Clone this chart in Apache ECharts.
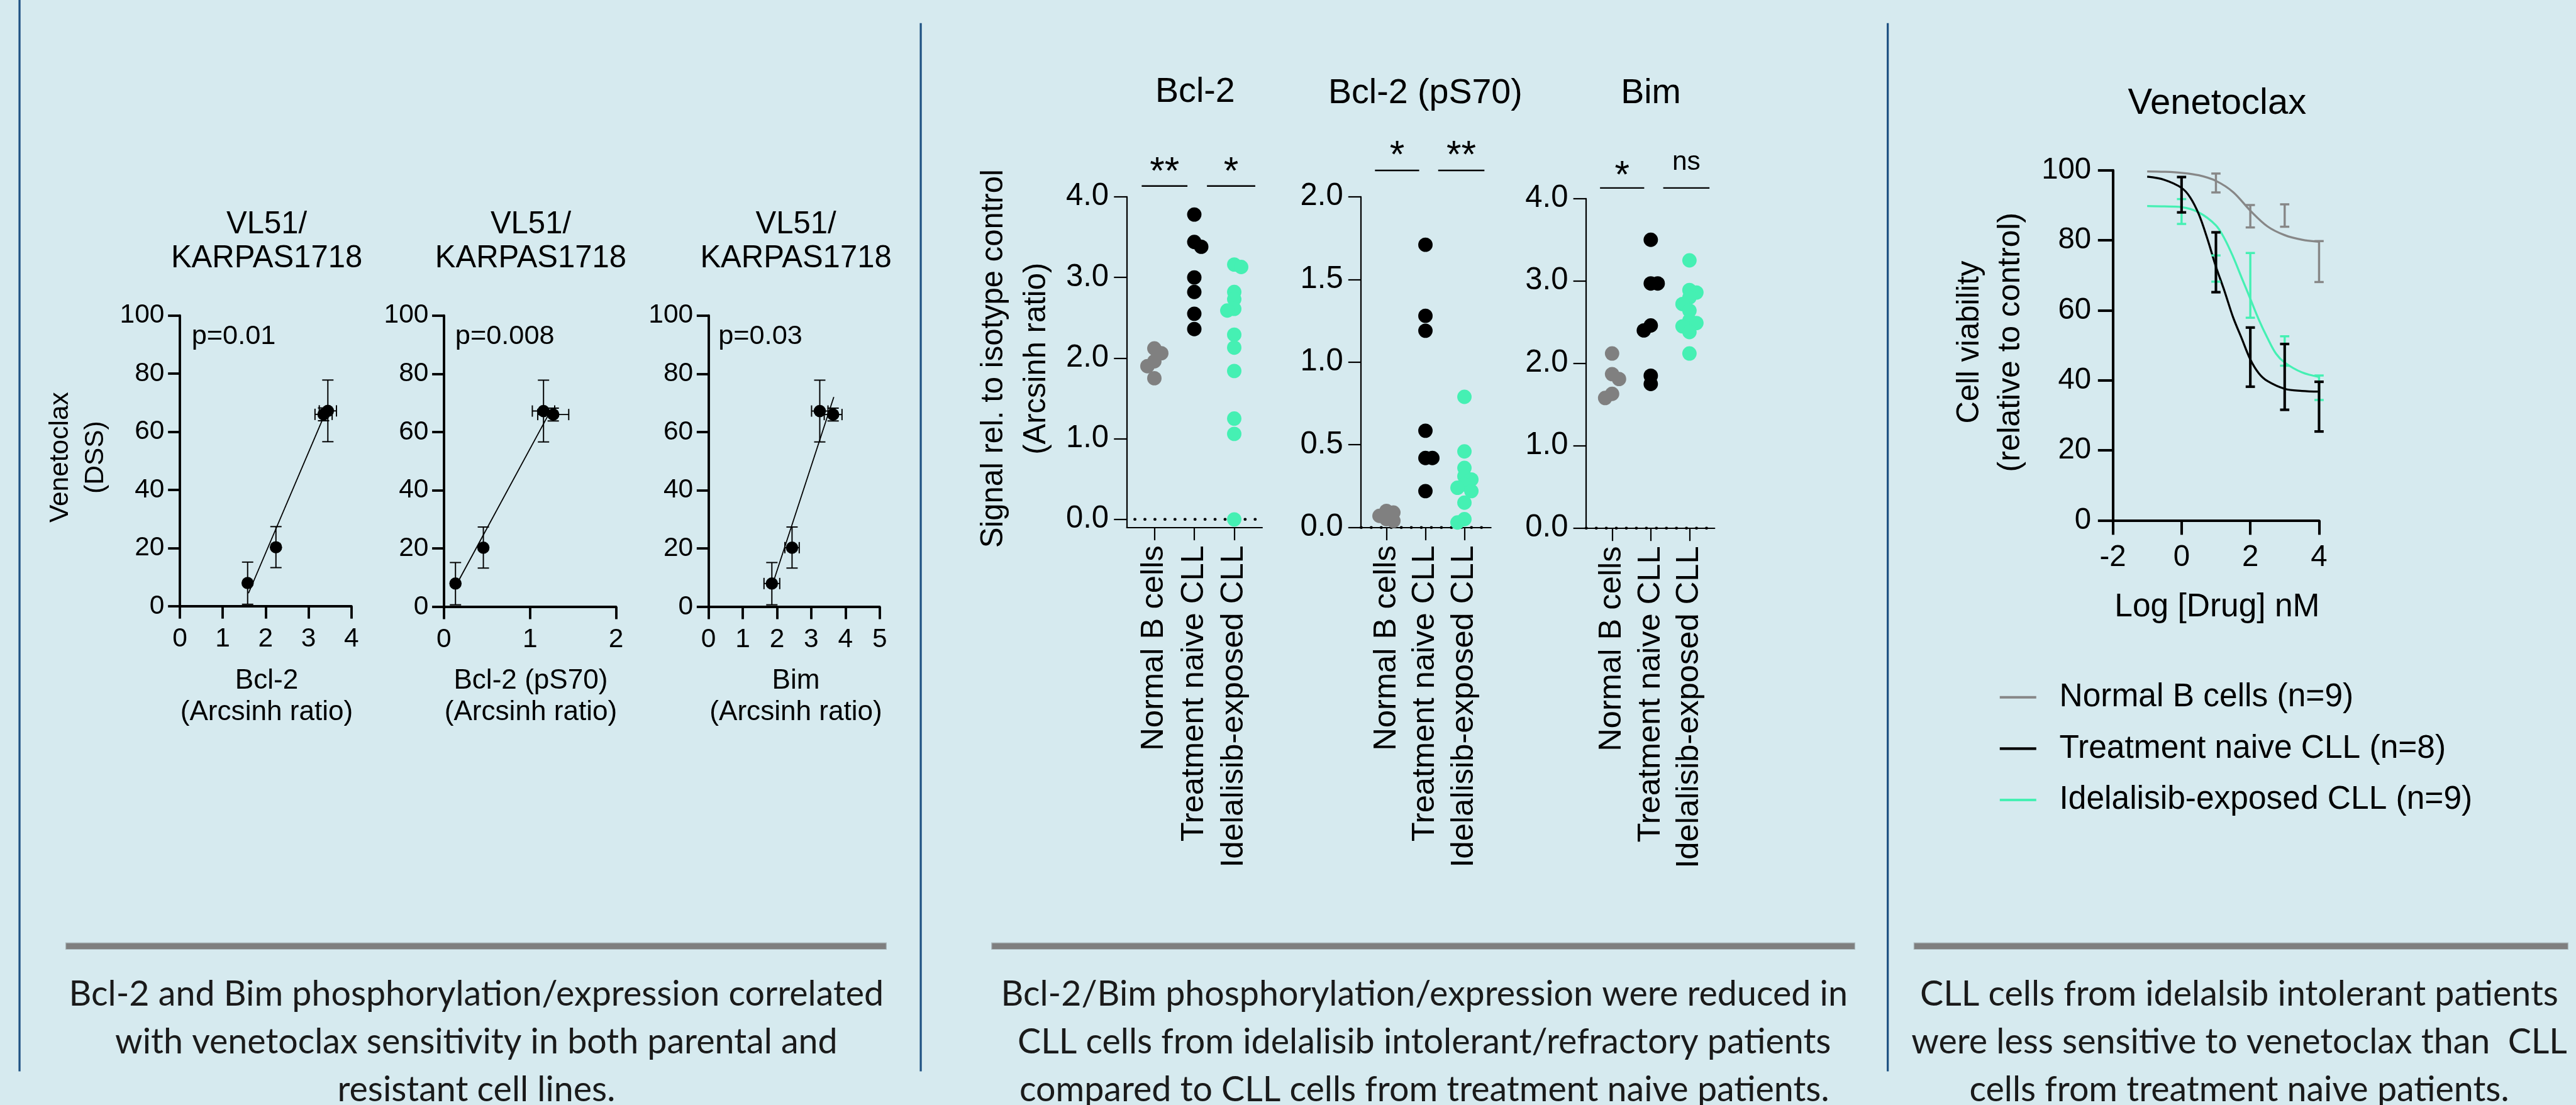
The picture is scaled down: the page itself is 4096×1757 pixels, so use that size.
<!DOCTYPE html>
<html><head><meta charset="utf-8">
<script src="https://cdn.jsdelivr.net/npm/echarts@6/dist/echarts.min.js"></script>
<style>html,body{margin:0;padding:0;background:#d6eaef;}#c{width:4096px;height:1757px;}</style>
</head><body><div id="c"></div>
<script>
// ---------------- DATA ----------------
// Panel 1: cell lines, DSS vs arcsinh ratios
const dssMean = [8.0, 20.3, 67.2, 66.0];
const dssLow = [0.7, 13.3, 56.6, 63.8];
const dssHigh = [15.2, 27.4, 77.8, 68.2];
const bcl2Ratio = [1.58, 2.24, 3.45, 3.35];
const bcl2RatioErr = [0, 0, 0.2, 0.2];
const ps70Ratio = [0.134, 0.458, 1.157, 1.27];
const ps70RatioErr = [0, 0, 0.13, 0.18];
const bimRatio = [1.85, 2.44, 3.25, 3.64];
const bimRatioErr = [0.23, 0.21, 0.24, 0.26];
const fitBcl2 = [[1.6, 4.5], [3.4, 66.8]];
const fitPs70 = [[0.134, 7.0], [1.25, 67.9]];
const fitBim = [[1.85, 7.0], [3.66, 72.0]];
const pValues = ['p=0.01', 'p=0.008', 'p=0.03'];
const p1Titles = ['Bcl-2', 'Bcl-2 (pS70)', 'Bim'];

// Panel 2: patient cells
const groups = ['Normal B cells', 'Treatment naive CLL', 'Idelalisib-exposed CLL'];
const bcl2Normal = [2.12, 2.06, 1.96, 1.90, 1.75];
const bcl2Naive = [3.78, 3.44, 3.38, 3.00, 2.82, 2.55, 2.36];
const bcl2Idela = [3.16, 3.13, 2.82, 2.73, 2.61, 2.59, 2.29, 2.13, 1.84, 1.25, 1.06, 0.0];
const ps70Normal = [0.10, 0.09, 0.07, 0.05, 0.04];
const ps70Naive = [1.71, 1.28, 1.19, 0.585, 0.42, 0.42, 0.22];
const ps70Idela = [0.79, 0.46, 0.36, 0.31, 0.29, 0.26, 0.24, 0.22, 0.15, 0.05, 0.03];
const bimNormal = [2.12, 1.87, 1.81, 1.63, 1.58];
const bimNaive = [3.50, 2.97, 2.97, 2.46, 2.40, 1.85, 1.75];
const bimIdela = [3.25, 2.89, 2.86, 2.80, 2.72, 2.64, 2.52, 2.49, 2.45, 2.38, 2.12];
const sigBcl2 = ['**', '*'];
const sigPs70 = ['*', '**'];
const sigBim = ['*', 'ns'];

// Panel 3: venetoclax dose response (log nM, % viability)
const normalCurve = [[-1,99.7],[-0.5,99.6],[0,99.3],[0.5,98.6],[1,97.0],[1.5,93.8],[2,88.5],[2.5,84.0],[3,81.5],[3.5,80.2],[4,79.6]];
const naiveCurve = [[-1,98.2],[-0.5,97.3],[0,95.0],[0.25,92.3],[0.5,87.5],[0.75,80.5],[1,72.5],[1.25,65.5],[1.5,58.0],[1.75,52.0],[2,46.0],[2.25,42.0],[2.5,39.8],[3,37.6],[3.5,37.0],[4,36.8]];
const idelaCurve = [[-1,89.8],[-0.5,89.7],[0,89.5],[0.5,88.0],[1,84.3],[1.25,80.5],[1.5,75.3],[1.75,69.3],[2,63.3],[2.25,57.3],[2.5,52.1],[2.75,47.6],[3,45.1],[3.5,42.3],[4,41.0]];
const normalErr = [[1,93.7,99.1],[2,83.7,90.1],[3,83.9,90.3],[4,68.1,79.8]];
const naiveErr = [[0,88.0,98.1],[1,65.2,82.3],[2,38.2,55.1],[3,31.6,50.4],[4,25.4,39.6]];
const idelaErr = [[0,84.7,91.8],[1,68.2,75.7],[2,57.9,76.4],[3,44.2,52.6],[4,34.4,41.4]];
const legendNames = ['Normal B cells (n=9)', 'Treatment naive CLL (n=8)', 'Idelalisib-exposed CLL (n=9)'];

const captions = [
  'Bcl-2 and Bim phosphorylation/expression correlated\nwith venetoclax sensitivity in both parental and\nresistant cell lines.',
  'Bcl-2/Bim phosphorylation/expression were reduced in\nCLL cells from idelalisib intolerant/refractory patients\ncompared to CLL cells from treatment naive patients.',
  'CLL cells from idelalsib intolerant patients\nwere less sensitive to venetoclax than  CLL\ncells from treatment naive patients.'
];

// ---------------- LAYOUT ----------------
const S = 0.817;
const s = v => v * S;
const FONT = "'Liberation Sans', Arial, Helvetica, sans-serif";
const CAPFONT = "Lato, 'Open Sans', sans-serif";
const GRAY = '#808080', GREEN = '#45f0b3', BLACK = '#000000';

const gridsRef = [
  [350, 614, 334, 566],
  [864, 614, 335, 567],
  [1379, 614, 333, 567],
  [2193, 383, 263.5, 643.5],
  [2649, 383, 252.7, 643.5],
  [3087, 386.5, 250, 641.4],
  [4112, 331.6, 401.4, 681.2]
];
const grid = gridsRef.map(g => ({left: s(g[0]), top: s(g[1]), width: s(g[2]), height: s(g[3])}));

function axis(gi, o) {
  const a = {
    type: 'value', gridIndex: gi, min: o.min, max: o.max,
    axisLine: {show: true, onZero: false, lineStyle: {color: '#000', width: o.w}},
    axisTick: {show: true, length: o.tick, lineStyle: {color: '#000', width: o.w}},
    axisLabel: {show: true, color: '#000', fontSize: o.fs, margin: o.margin, fontFamily: FONT},
    splitLine: {show: false}
  };
  if (o.interval !== undefined) a.interval = o.interval;
  if (o.fmt) a.axisLabel.formatter = o.fmt;
  if (o.custom) { a.axisTick.customValues = o.custom; a.axisLabel.customValues = o.custom; }
  if (o.rotate) a.axisLabel.rotate = o.rotate;
  return a;
}
const catFmt = v => groups[Math.round(v) - 1];
const f1 = v => v.toFixed(1);
const p1x = {w: s(4.7), tick: s(24), fs: s(52), margin: s(38)};
const p1y = {min: 0, max: 100, interval: 20, w: s(4.7), tick: s(23), fs: s(52), margin: s(30)};
const p2x = {custom: [1, 2, 3], fmt: catFmt, rotate: 90, w: s(2.7), tick: s(25), fs: s(62), margin: s(35)};
const p2y = {w: s(2.7), tick: s(25), fs: s(60), margin: s(35), fmt: f1};

const xAxis = [
  axis(0, Object.assign({min: 0, max: 4, interval: 1}, p1x)),
  axis(1, Object.assign({min: 0, max: 2, interval: 1}, p1x)),
  axis(2, Object.assign({min: 0, max: 5, interval: 1}, p1x)),
  axis(3, Object.assign({min: 0.31, max: 3.70}, p2x)),
  axis(4, Object.assign({min: 0.35, max: 3.68}, p2x)),
  axis(5, Object.assign({min: 0.33, max: 3.65}, p2x)),
  axis(6, {min: -2, max: 4, interval: 2, w: s(5), tick: s(28), fs: s(58), margin: s(44)})
];
const yAxis = [
  axis(0, p1y), axis(1, p1y), axis(2, p1y),
  axis(3, Object.assign({min: -0.1, max: 4, custom: [0, 1, 2, 3, 4]}, p2y)),
  axis(4, Object.assign({min: 0, max: 2, interval: 0.5}, p2y)),
  axis(5, Object.assign({min: 0, max: 4, interval: 1}, p2y)),
  axis(6, {min: 0, max: 100, interval: 20, w: s(5), tick: s(29), fs: s(58), margin: s(42)})
];

// swarm placement through the axis scales (px per unit from grid + axis range)
function swarm(values, center, gi) {
  const xa = xAxis[gi], ya = yAxis[gi];
  const pxX = grid[gi].width / (xa.max - xa.min);
  const pxY = grid[gi].height / (ya.max - ya.min);
  const D = s(27), thr = 0.5 * D;
  const placed = [], out = [];
  let sign = 1;
  values.slice().sort((a, b) => b - a).forEach(v => {
    const yp = v * pxY;
    const cands = [0, 0.5 * sign, -0.5 * sign, sign, -sign, 1.5 * sign, -1.5 * sign, 2 * sign, -2 * sign];
    for (const c of cands) {
      const xp = c * D;
      if (placed.every(p => Math.hypot(p[0] - xp, p[1] - yp) >= thr)) {
        placed.push([xp, yp]);
        out.push([center + xp / pxX, v]);
        if (c !== 0) sign = -Math.sign(c);
        break;
      }
    }
  });
  return out;
}

function line(x1, y1, x2, y2, w, c) {
  return {type: 'line', shape: {x1: x1, y1: y1, x2: x2, y2: y2}, style: {stroke: c || '#000', lineWidth: w}};
}

// error bars for panel 1 (x and y)
function errXY(gi, xs, xe) {
  return {
    type: 'custom', xAxisIndex: gi, yAxisIndex: gi, z: 3, silent: true,
    data: xs.map((x, i) => [x, dssMean[i], xe[i], dssLow[i], dssHigh[i]]),
    encode: {x: 0, y: 1},
    renderItem: (params, api) => {
      const x = api.value(0), y = api.value(1), e = api.value(2);
      const lo = api.coord([x, api.value(3)]), hi = api.coord([x, api.value(4)]);
      const cap = s(11), w = s(2.4);
      const ch = [line(lo[0], lo[1], hi[0], hi[1], w), line(lo[0] - cap, lo[1], lo[0] + cap, lo[1], w), line(hi[0] - cap, hi[1], hi[0] + cap, hi[1], w)];
      if (e > 0) {
        const l = api.coord([x - e, y]), r = api.coord([x + e, y]);
        ch.push(line(l[0], l[1], r[0], r[1], w), line(l[0], l[1] - cap, l[0], l[1] + cap, w), line(r[0], r[1] - cap, r[0], r[1] + cap, w));
      }
      return {type: 'group', children: ch};
    }
  };
}
// vertical error bars for panel 3
function errY(data, color, w) {
  return {
    type: 'custom', xAxisIndex: 6, yAxisIndex: 6, silent: true, z: 4,
    data: data, encode: {x: 0, y: [1, 2]},
    renderItem: (params, api) => {
      const x = api.value(0);
      const lo = api.coord([x, api.value(1)]), hi = api.coord([x, api.value(2)]);
      const cap = s(9);
      return {type: 'group', children: [
        line(lo[0], lo[1], hi[0], hi[1], w, color),
        line(lo[0] - cap, lo[1], lo[0] + cap, lo[1], w, color),
        line(hi[0] - cap, hi[1], hi[0] + cap, hi[1], w, color)]};
    }
  };
}

const series = [];
// Panel 1
[[bcl2Ratio, bcl2RatioErr, fitBcl2], [ps70Ratio, ps70RatioErr, fitPs70], [bimRatio, bimRatioErr, fitBim]].forEach((d, gi) => {
  series.push({type: 'line', xAxisIndex: gi, yAxisIndex: gi, data: d[2], showSymbol: false, symbol: 'none', silent: true, z: 2,
    lineStyle: {color: '#000', width: s(2.2)}});
  series.push(errXY(gi, d[0], d[1]));
  series.push({type: 'scatter', xAxisIndex: gi, yAxisIndex: gi, data: d[0].map((x, i) => [x, dssMean[i]]),
    symbolSize: s(24), itemStyle: {color: '#000', opacity: 1}, silent: true, z: 5});
});
// Panel 2
const p2sets = [[bcl2Normal, bcl2Naive, bcl2Idela], [ps70Normal, ps70Naive, ps70Idela], [bimNormal, bimNaive, bimIdela]];
p2sets.forEach((sets, k) => {
  const gi = 3 + k;
  const x0 = xAxis[gi].min, x1 = xAxis[gi].max;
  series.push({type: 'line', xAxisIndex: gi, yAxisIndex: gi, data: [[k === 0 ? x0 + 0.2 : x0, 0], [x1, 0]], symbol: 'none', showSymbol: false, silent: true, z: 2,
    lineStyle: {color: '#000', width: s(5.5), type: [s(0.5), s(19)], cap: 'round'}});
  [GRAY, BLACK, GREEN].forEach((col, j) => {
    series.push({type: 'scatter', xAxisIndex: gi, yAxisIndex: gi, data: swarm(sets[j], j + 1, gi),
      symbolSize: s(28), itemStyle: {color: col, opacity: 1}, silent: true, z: 5});
  });
});
// Panel 3
series.push(errY(normalErr, '#878787', s(4.2)));
series.push(errY(idelaErr, GREEN, s(4.2)));
series.push(errY(naiveErr, BLACK, s(5)));
[[normalCurve, '#878787'], [idelaCurve, GREEN], [naiveCurve, BLACK]].forEach(c => {
  series.push({type: 'line', xAxisIndex: 6, yAxisIndex: 6, data: c[0], smooth: 0.35, symbol: 'none', showSymbol: false, silent: true, z: 3,
    lineStyle: {color: c[1], width: s(4)}});
});

// ---------------- GRAPHIC ----------------
const G = [];
function T(text, x, y, fs, o) {
  o = o || {};
  G.push({type: 'text', x: s(x), y: s(y), rotation: o.rot || 0, silent: true, z: 10,
    style: {text: text, fontSize: s(fs), fontFamily: o.font || FONT, fill: o.fill || '#000',
      align: o.align || 'center', verticalAlign: 'middle', lineHeight: o.lh ? s(o.lh) : undefined, fontWeight: o.bold ? 'bold' : 'normal'}});
}
function L(x1, y1, x2, y2, w, c) {
  G.push({type: 'line', silent: true, z: 10, shape: {x1: s(x1), y1: s(y1), x2: s(x2), y2: s(y2)}, style: {stroke: c || '#000', lineWidth: s(w)}});
}
// dividers
L(38, 0, 38, 2085, 4, '#1f5283');
L(1792, 45, 1792, 2085, 4, '#1f5283');
L(3674, 45, 3674, 2085, 4, '#1f5283');
// gray rules
[[128, 1725], [1930, 3610], [3725, 4998]].forEach(r => {
  G.push({type: 'rect', silent: true, z: 9, shape: {x: s(r[0]), y: s(1835), width: s(r[1] - r[0]), height: s(12.6)},
    style: {fill: '#7f7f7f', stroke: '#aab8bc', lineWidth: s(1.5)}});
});
// captions
[927, 2772, 4358].forEach((cx, i) => T(captions[i], cx, 2028, 68, {font: CAPFONT, lh: 93, fill: '#1a1a1a'}));

// Panel 1 texts
[519, 1033, 1549].forEach((cx, i) => {
  T('VL51/', cx, 438, 60);
  T('KARPAS1718', cx, 504, 60);
  T(p1Titles[i], cx, 1325, 54);
  T('(Arcsinh ratio)', cx, 1386, 54);
});
[373, 886, 1398].forEach((x, i) => T(pValues[i], x, 655, 53, {align: 'left'}));
T('Venetoclax', 118, 890, 52, {rot: Math.PI / 2});
T('(DSS)', 186, 890, 52, {rot: Math.PI / 2});

// Panel 2 texts
T('Bcl-2', 2326, 180, 68);
T('Bcl-2 (pS70)', 2774, 182, 68);
T('Bim', 3213, 182, 68);
T('Signal rel. to isotype control', 1934, 698, 60, {rot: Math.PI / 2});
T('(Arcsinh ratio)', 2018, 698, 60, {rot: Math.PI / 2});
const sigDefs = [
  [362, [[2222, 2311], [2349, 2443]], sigBcl2, [320, 320]],
  [331.6, [[2676, 2762], [2799, 2889]], sigPs70, [288, 288]],
  [365.8, [[3114, 3200], [3237, 3327]], sigBim, [327, 320]]
];
sigDefs.forEach(d => {
  d[1].forEach((seg, j) => {
    L(seg[0], d[0], seg[1], d[0], 3);
    const t = d[2][j];
    const cx = (seg[0] + seg[1]) / 2;
    if (t === 'ns') T(t, cx, d[3][j] - 4, 52);
    else T(t, cx, d[3][j] + 17, 74);
  });
});

// Panel 3 texts
T('Venetoclax', 4315, 202, 71);
T('Log [Drug] nM', 4315, 1182, 63);
T('Cell viability', 3834, 666, 60, {rot: Math.PI / 2});
T('(relative to control)', 3914, 666, 61, {rot: Math.PI / 2});
[['#878787', 1357], [BLACK, 1457], [GREEN, 1557]].forEach((r, i) => {
  L(3892, r[1], 3963, r[1], 5, r[0]);
  T(legendNames[i], 4008, r[1], 63, {align: 'left'});
});

const option = {
  backgroundColor: '#d6eaef',
  animation: false,
  textStyle: {fontFamily: FONT},
  grid: grid,
  xAxis: xAxis,
  yAxis: yAxis,
  series: series,
  graphic: G
};
const chart = echarts.init(document.getElementById('c'), null, {renderer: 'canvas', width: 4096, height: 1757});
chart.setOption(option);
</script>
</body></html>
